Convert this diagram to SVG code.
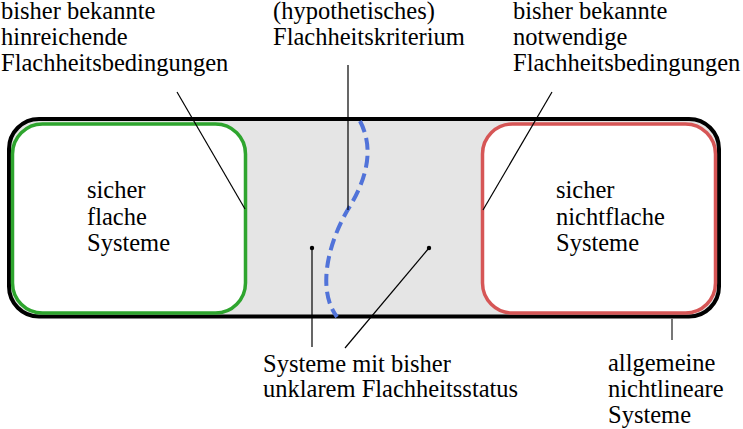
<svg xmlns="http://www.w3.org/2000/svg" width="743" height="429" viewBox="0 0 743 429">
<style>
text{font-family:"Liberation Serif","DejaVu Serif",serif;font-size:24.5px;fill:#000}
.lead{stroke:#000;stroke-width:1.2;fill:none}
.dot{fill:#000}
</style>
<rect width="743" height="429" fill="#fff"/>
<g id="outer">
<rect x="9" y="119" width="710" height="197.5" rx="30" ry="30" fill="#e5e5e5" stroke="#000" stroke-width="4"/>
</g>
<g id="flat">
<rect x="12.5" y="124" width="233" height="189" rx="30" ry="30" fill="#fff" stroke="#2ea52e" stroke-width="3.5"/>
<text x="87" y="198">sicher</text>
<text x="87" y="225">flache</text>
<text x="87" y="251">Systeme</text>
</g>
<g id="nonflat">
<rect x="482.5" y="124" width="233" height="189" rx="30" ry="30" fill="#fff" stroke="#d65656" stroke-width="3.5"/>
<text x="556" y="198">sicher</text>
<text x="556" y="225">nichtflache</text>
<text x="556" y="251">Systeme</text>
</g>
<g id="criterion">
<path d="M360 121 C374 148 368 178 347 211 C326 248 318 292 337 317" fill="none" stroke="#5173d9" stroke-width="4" stroke-dasharray="12 6"/>
</g>
<g id="labels">
<text x="1" y="18.5">bisher bekannte</text>
<text x="1" y="44.5">hinreichende</text>
<text x="1" y="70.5">Flachheitsbedingungen</text>
<text x="273" y="18.5">(hypothetisches)</text>
<text x="273" y="44.5">Flachheitskriterium</text>
<text x="513" y="18.5">bisher bekannte</text>
<text x="513" y="44.5">notwendige</text>
<text x="513" y="70.5">Flachheitsbedingungen</text>
<text x="263" y="372">Systeme mit bisher</text>
<text x="263" y="397">unklarem Flachheitsstatus</text>
<text x="608" y="371">allgemeine</text>
<text x="608" y="397">nichtlineare</text>
<text x="608" y="423">Systeme</text>
</g>
<g id="connectors">
<line class="lead" x1="177" y1="92" x2="245" y2="209"/>
<line class="lead" x1="348" y1="65" x2="348" y2="210"/>
<line class="lead" x1="552" y1="92" x2="483" y2="210"/>
<line class="lead" x1="312" y1="248" x2="312" y2="347"/>
<line class="lead" x1="429" y1="248" x2="345" y2="348"/>
<circle class="dot" cx="312" cy="248" r="2.2"/>
<circle class="dot" cx="429" cy="248" r="2.2"/>
<line x1="672" y1="318" x2="672" y2="340" stroke="#777" stroke-width="2"/>
</g>
</svg>
